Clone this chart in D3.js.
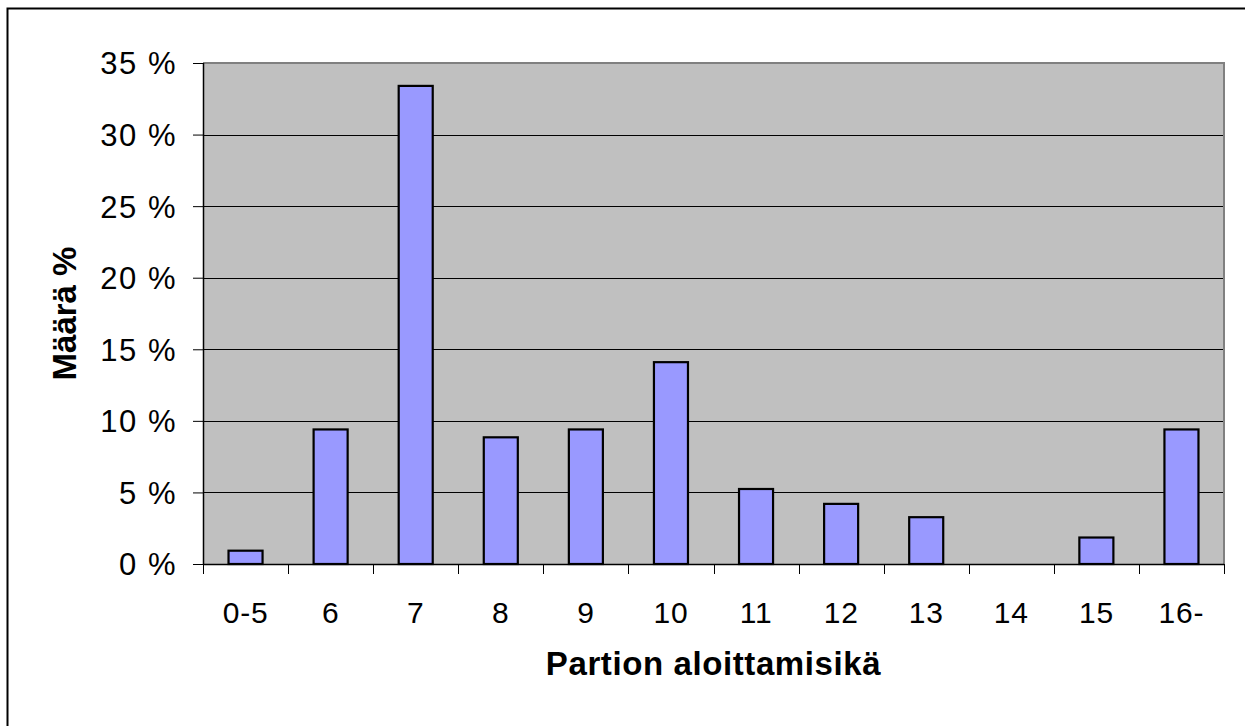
<!DOCTYPE html>
<html><head><meta charset="utf-8">
<script src="https://cdn.jsdelivr.net/npm/d3@7"></script>
<style>body{margin:0;background:#fff}svg{display:block}</style>
</head><body>
<svg id="c" width="1245" height="726"></svg>
<script>
const categories = ["0-5","6","7","8","9","10","11","12","13","14","15","16-"];
const values = [0.93, 9.4, 33.4, 8.85, 9.4, 14.1, 5.24, 4.2, 3.27, 0, 1.85, 9.4];
const yTicks = [0,5,10,15,20,25,30,35];
const xTitle = "Partion aloittamisikä";
const yTitle = "Määrä %";

const svg = d3.select("#c");
const font = "'Liberation Sans', Arial, sans-serif";
const L = 203, R = 1224, T = 63, B = 564;

svg.append("rect").attr("x",7.5).attr("y",8.5).attr("width",1300).attr("height",800)
  .attr("fill","#fff").attr("stroke","#000").attr("stroke-width",2);

const x = d3.scaleBand().domain(categories).range([L,R]).paddingInner(0.6).paddingOuter(0.3);
const xb = d3.scaleBand().domain(categories).range([L,R]);
const y = d3.scaleLinear().domain([0,35]).range([B,T]);

svg.append("rect").attr("x",L).attr("y",T).attr("width",R-L).attr("height",B-T).attr("fill","#c0c0c0");

// gridlines
svg.append("g").selectAll("line").data(yTicks.filter(d=>d>0&&d<35)).join("line")
  .attr("x1",L).attr("x2",R).attr("y1",d=>Math.round(y(d))+0.5).attr("y2",d=>Math.round(y(d))+0.5)
  .attr("stroke","#000").attr("stroke-width",1);

// plot frame top/right
svg.append("path").attr("d",`M${L},${T} H${R} V${B}`).attr("fill","none").attr("stroke","#808080").attr("stroke-width",2);

// bars
svg.append("g").selectAll("rect").data(values).join("rect")
  .attr("x",(d,i)=>x(categories[i])).attr("width",x.bandwidth())
  .attr("y",d=>y(d)).attr("height",d=>B-y(d))
  .attr("fill","#9999ff").attr("stroke","#000").attr("stroke-width",2.2);

// y axis
const ya = d3.axisLeft(y).tickValues(yTicks).tickSize(10).tickPadding(0).tickFormat(d=>d+" %");
const gy = svg.append("g").attr("transform",`translate(${L},0)`).call(ya);
gy.select(".domain").attr("stroke","#000").attr("stroke-width",1.5).attr("d",`M0.5,${T}V${B}`);
gy.selectAll(".tick line").attr("stroke","#000");
gy.selectAll("text").attr("x",-26).attr("dy","0.35em").attr("font-family",font).attr("font-size",31)
  .attr("letter-spacing","1.5px").attr("fill","#000");

// x axis
const xa = d3.axisBottom(xb).tickSize(0).tickPadding(0);
const gx = svg.append("g").attr("transform",`translate(0,${B})`).call(xa);
gx.select(".domain").attr("stroke","#000").attr("stroke-width",1.5).attr("d",`M${L},0.5H${R}`);
gx.selectAll("text").attr("y",59).attr("dy",0).attr("font-family",font).attr("font-size",30)
  .attr("letter-spacing","0.8px").attr("fill","#000");
// boundary ticks
const bounds = categories.map(c=>xb(c)).concat([R]);
svg.append("g").selectAll("line").data(bounds).join("line")
  .attr("x1",d=>Math.round(d)+0.5).attr("x2",d=>Math.round(d)+0.5).attr("y1",B).attr("y2",B+10)
  .attr("stroke","#000").attr("stroke-width",1);

// titles
svg.append("text").attr("x",(L+R)/2).attr("y",675).attr("text-anchor","middle")
  .attr("font-family",font).attr("font-size",33).attr("font-weight","bold")
  .attr("letter-spacing","0.6px").text(xTitle);
svg.append("text").attr("transform",`translate(76,${(T+B)/2}) rotate(-90)`).attr("text-anchor","middle")
  .attr("font-family",font).attr("font-size",33).attr("font-weight","bold").text(yTitle);
</script>
</body></html>
